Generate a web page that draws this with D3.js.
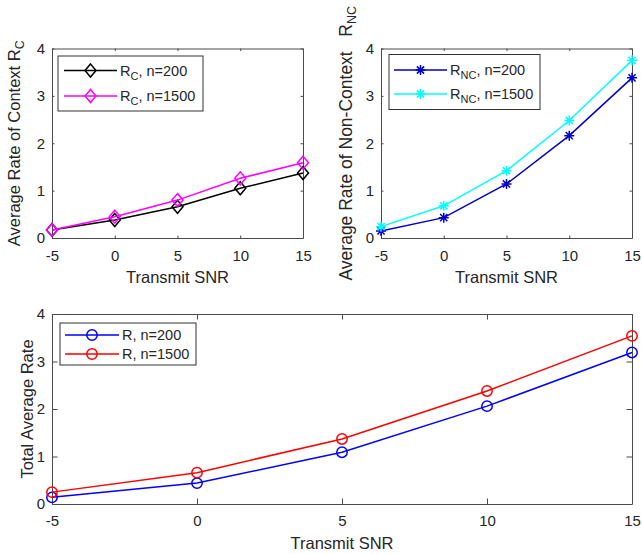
<!DOCTYPE html>
<html>
<head>
<meta charset="utf-8">
<script src="https://cdn.jsdelivr.net/npm/d3@7"></script>
<style>
  body { margin: 0; background: #fff; }
  svg text { font-family: "Liberation Sans", Arial, sans-serif; fill: #262626; }
</style>
</head>
<body>
<div id="chart"></div>
<script>
const snr = [-5, 0, 5, 10, 15];
const rcN200 = [0.17, 0.38, 0.66, 1.05, 1.37];
const rcN1500 = [0.17, 0.45, 0.80, 1.26, 1.59];
const rncN200 = [0.15, 0.43, 1.14, 2.16, 3.38];
const rncN1500 = [0.24, 0.68, 1.42, 2.48, 3.75];
const rN200 = [0.14, 0.44, 1.09, 2.06, 3.19];
const rN1500 = [0.25, 0.66, 1.37, 2.38, 3.54];
const xTicks = [-5, 0, 5, 10, 15];
const yTicks = [0, 1, 2, 3, 4];

const svg = d3.select("#chart").append("svg")
    .attr("width", 642)
    .attr("height", 554);

const panels = [
    {
        x: 52, y: 48.5, w: 251, h: 189.5, tick: 2.5,
        ylabel: [["Average Rate of Context R"], ["C", true]], ylabelX: -32, ylabelSize: 16.5,
        series: [
            { values: rcN200, color: "#000000", marker: "diamond", label: ["R", "C", ", n=200"] },
            { values: rcN1500, color: "#ff00ff", marker: "diamond", label: ["R", "C", ", n=1500"] }
        ],
        legend: { x: 6, y: 7.5, w: 145, h: 55, rows: [14.5, 40], x1: 6, x2: 59, text: 62 }
    },
    {
        x: 381, y: 48.5, w: 251, h: 189.5, tick: 2.5,
        ylabel: [["Average Rate of Non-Context   R"], ["NC", true]], ylabelX: -29, ylabelSize: 17.5,
        series: [
            { values: rncN200, color: "#0000cc", marker: "star", label: ["R", "NC", ", n=200"] },
            { values: rncN1500, color: "#00ffff", marker: "star", label: ["R", "NC", ", n=1500"] }
        ],
        legend: { x: 8, y: 6, w: 151, h: 55, rows: [15.5, 39.5], x1: 5, x2: 58, text: 61 }
    },
    {
        x: 52, y: 314, w: 580, h: 190, tick: 5.5,
        ylabel: [["Total Average Rate"]], ylabelX: -19, ylabelSize: 16.5,
        series: [
            { values: rN200, color: "#0000ff", marker: "circle", label: ["R, n=200"] },
            { values: rN1500, color: "#ff0000", marker: "circle", label: ["R, n=1500"] }
        ],
        legend: { x: 8, y: 9, w: 136, h: 42, rows: [12, 31], x1: 5, x2: 59, text: 62 }
    }
];

function drawMarker(g, type, cx, cy, color) {
    if (type === "diamond") {
        g.append("path")
            .attr("d", `M${cx},${cy - 6.5}L${cx + 5.5},${cy}L${cx},${cy + 6.5}L${cx - 5.5},${cy}Z`)
            .attr("fill", "none").attr("stroke", color).attr("stroke-width", 1.5);
    } else if (type === "circle") {
        g.append("circle")
            .attr("cx", cx).attr("cy", cy).attr("r", 5.2)
            .attr("fill", "none").attr("stroke", color).attr("stroke-width", 1.5);
    } else {
        const r = 5, d = 3.6;
        g.append("path")
            .attr("d", `M${cx - r},${cy}H${cx + r}M${cx},${cy - r}V${cy + r}` +
                `M${cx - d},${cy - d}L${cx + d},${cy + d}M${cx - d},${cy + d}L${cx + d},${cy - d}`)
            .attr("fill", "none").attr("stroke", color).attr("stroke-width", 1.5);
    }
}

function drawPanel(p) {
    const g = svg.append("g").attr("transform", `translate(${p.x},${p.y})`);
    const x = d3.scaleLinear().domain([-5, 15]).range([0, p.w]);
    const y = d3.scaleLinear().domain([0, 4]).range([p.h, 0]);

    const axes = [
        g.append("g").attr("transform", `translate(0,${p.h})`)
            .call(d3.axisBottom(x).tickValues(xTicks).tickFormat(d => String(d))
                .tickSizeInner(-p.tick).tickSizeOuter(0).tickPadding(p.tick > 3 ? 11 : 12)),
        g.append("g")
            .call(d3.axisLeft(y).tickValues(yTicks).tickFormat(d => String(d))
                .tickSizeInner(-p.tick).tickSizeOuter(0).tickPadding(7)),
        g.append("g")
            .call(d3.axisTop(x).tickValues(xTicks).tickFormat("")
                .tickSizeInner(-p.tick).tickSizeOuter(0)),
        g.append("g").attr("transform", `translate(${p.w},0)`)
            .call(d3.axisRight(y).tickValues(yTicks).tickFormat("")
                .tickSizeInner(-p.tick).tickSizeOuter(0))
    ];
    axes.forEach(a => {
        a.attr("font-family", null).attr("font-size", null);
        a.selectAll("path, line").attr("stroke", "#4a4a4a").attr("stroke-width", 1);
        a.selectAll("text").style("font-size", "15px").attr("fill", "#262626");
    });

    // x label
    g.append("text")
        .attr("x", p.w / 2).attr("y", p.h + 45)
        .attr("text-anchor", "middle")
        .style("font-size", "16.5px")
        .text("Transmit SNR");

    // y label
    const yl = g.append("text")
        .attr("transform", `translate(${p.ylabelX},${p.h / 2}) rotate(-90)`)
        .attr("text-anchor", "middle")
        .style("font-size", p.ylabelSize + "px")
        .style("white-space", "pre");
    p.ylabel.forEach(([t, sub]) => {
        yl.append("tspan")
            .attr("dy", sub ? 4 : null)
            .style("font-size", sub ? "12.5px" : null)
            .text(t);
    });

    // series
    const line = d3.line().x((d, i) => x(snr[i])).y(d => y(d));
    p.series.forEach(s => {
        g.append("path")
            .attr("d", line(s.values))
            .attr("fill", "none")
            .attr("stroke", s.color)
            .attr("stroke-width", 1.5);
        const mg = g.append("g");
        s.values.forEach((v, i) => drawMarker(mg, s.marker, x(snr[i]), y(v), s.color));
    });

    // legend
    const L = p.legend;
    const lg = g.append("g").attr("transform", `translate(${L.x},${L.y})`);
    lg.append("rect")
        .attr("width", L.w).attr("height", L.h)
        .attr("fill", "#fff").attr("stroke", "#333").attr("stroke-width", 1);
    p.series.forEach((s, i) => {
        const ry = L.rows[i];
        lg.append("line")
            .attr("x1", L.x1).attr("x2", L.x2).attr("y1", ry).attr("y2", ry)
            .attr("stroke", s.color).attr("stroke-width", 1.5);
        drawMarker(lg, s.marker, (L.x1 + L.x2) / 2, ry, s.color);
        const t = lg.append("text")
            .attr("x", L.text).attr("y", ry + 5)
            .style("font-size", "14.5px");
        if (s.label.length === 1) {
            t.text(s.label[0]);
        } else {
            t.append("tspan").text(s.label[0]);
            t.append("tspan").attr("dy", 4).style("font-size", "11px").text(s.label[1]);
            t.append("tspan").attr("dy", -4).text(s.label[2]);
        }
    });
}

panels.forEach(drawPanel);
</script>
</body>
</html>
